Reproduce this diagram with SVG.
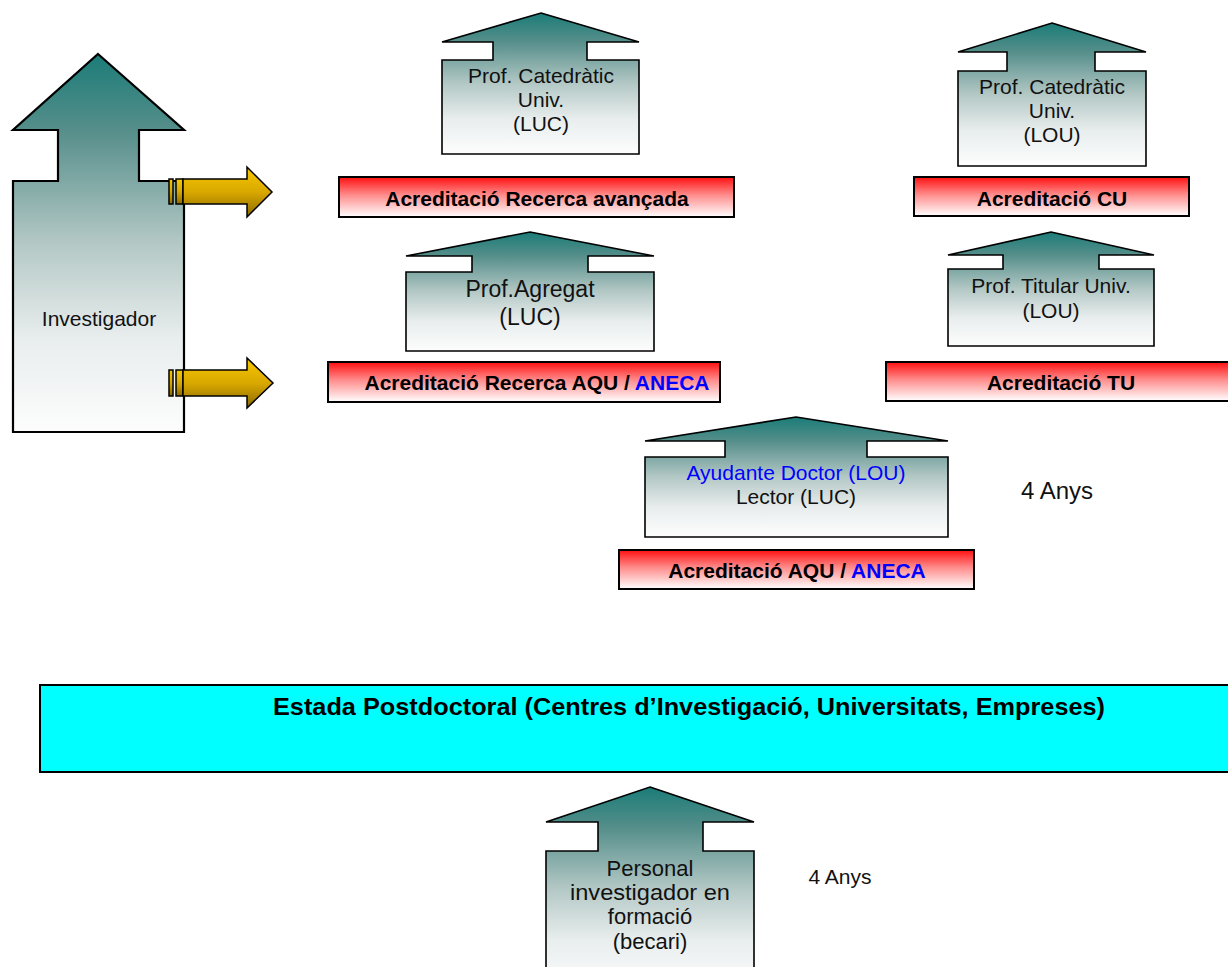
<svg xmlns="http://www.w3.org/2000/svg" width="1228" height="967" viewBox="0 0 1228 967">
<defs>
<linearGradient id="teal" x1="0" y1="0" x2="0" y2="1">
<stop offset="0" stop-color="#1B7C78"/>
<stop offset="0.2" stop-color="#558E8A"/>
<stop offset="0.5" stop-color="#B3C8C5"/>
<stop offset="0.75" stop-color="#E8EDED"/>
<stop offset="1" stop-color="#FDFDFD"/>
</linearGradient>
<linearGradient id="red" x1="0" y1="0" x2="0" y2="1">
<stop offset="0" stop-color="#FF1010"/>
<stop offset="0.45" stop-color="#FF8C8C"/>
<stop offset="1" stop-color="#FFFFFF"/>
</linearGradient>
<linearGradient id="gold" x1="0" y1="0" x2="0" y2="1">
<stop offset="0" stop-color="#F7C800"/>
<stop offset="0.5" stop-color="#D9A800"/>
<stop offset="1" stop-color="#8A6A00"/>
</linearGradient>
</defs>
<style>
.up{fill:url(#teal);stroke:#000;stroke-width:1.6;stroke-linejoin:miter}
.bar{fill:url(#red);stroke:#000;stroke-width:2}
.t{font-family:"Liberation Sans",Arial,sans-serif;font-size:21px;fill:#111;text-anchor:middle}
.b{font-family:"Liberation Sans",Arial,sans-serif;font-size:21px;font-weight:bold;fill:#000;text-anchor:middle}
.blue{fill:#0000FF}
.gold{fill:url(#gold);stroke:#000;stroke-width:1.5}
</style>

<g id="investigador">
<path class="up" style="stroke-width:2.2" d="M98,54 L184,130 L139,130 L139,181 L184,181 L184,432 L13,432 L13,181 L58,181 L58,130 L13,130 Z"/>
<text class="t" x="99" y="326">Investigador</text>
</g>

<g id="cat_luc">
<path class="up" d="M541,13 L639,42 L587,42 L587,60 L639,60 L639,154 L442,154 L442,60 L493,60 L493,42 L442,42 Z"/>
<text class="t" x="541" y="83">Prof. Catedràtic</text>
<text class="t" x="541" y="107">Univ.</text>
<text class="t" x="541" y="131">(LUC)</text>
</g>

<g id="acr_recerca_avancada">
<rect class="bar" x="339" y="177" width="395" height="40"/>
<text class="b" x="537" y="206">Acreditació Recerca avançada</text>
</g>

<g id="cat_lou">
<path class="up" d="M1052,23 L1146,52 L1095,52 L1095,71 L1146,71 L1146,166 L958,166 L958,71 L1007,71 L1007,52 L958,52 Z"/>
<text class="t" x="1052" y="94">Prof. Catedràtic</text>
<text class="t" x="1052" y="118">Univ.</text>
<text class="t" x="1052" y="142">(LOU)</text>
</g>

<g id="acr_cu">
<rect class="bar" x="914" y="177" width="275" height="39"/>
<text class="b" x="1052" y="206">Acreditació CU</text>
</g>

<g id="agregat">
<path class="up" d="M530,232 L654,256 L588,256 L588,272 L654,272 L654,351 L406,351 L406,272 L472,272 L472,256 L406,256 Z"/>
<text class="t" style="font-size:23px" x="530" y="297">Prof.Agregat</text>
<text class="t" style="font-size:23px" x="530" y="325">(LUC)</text>
</g>

<g id="acr_recerca_aqu">
<rect class="bar" x="328" y="362" width="392" height="40"/>
<text class="b" x="537" y="390">Acreditació Recerca AQU / <tspan class="blue">ANECA</tspan></text>
</g>

<g id="titular">
<path class="up" d="M1051,232 L1154,255 L1099,255 L1099,269 L1154,269 L1154,346 L948,346 L948,269 L1003,269 L1003,255 L948,255 Z"/>
<text class="t" x="1051" y="293">Prof. Titular Univ.</text>
<text class="t" x="1051" y="318">(LOU)</text>
</g>

<g id="acr_tu">
<rect class="bar" x="886" y="362" width="360" height="39"/>
<text class="b" x="1061" y="390">Acreditació TU</text>
</g>

<g id="ayudante">
<path class="up" d="M796,417 L948,441 L867,441 L867,457 L948,457 L948,537 L645,537 L645,457 L725,457 L725,441 L645,441 Z"/>
<text class="t blue" x="796" y="480">Ayudante Doctor (LOU)</text>
<text class="t" x="796" y="504">Lector (LUC)</text>
</g>

<g id="anys1">
<text class="t" style="font-size:24px" x="1057" y="499">4 Anys</text>
</g>

<g id="acr_aqu">
<rect class="bar" x="619" y="550" width="355" height="39"/>
<text class="b" x="797" y="578">Acreditació AQU / <tspan class="blue">ANECA</tspan></text>
</g>

<g id="postdoc">
<rect x="40" y="685" width="1200" height="87" fill="#00FFFF" stroke="#000" stroke-width="2"/>
<text class="b" style="font-size:24px" x="689" y="715" textLength="832" lengthAdjust="spacingAndGlyphs">Estada Postdoctoral (Centres d’Investigació, Universitats, Empreses)</text>
</g>

<g id="personal">
<path class="up" d="M650,787 L754,822 L703,822 L703,851 L754,851 L754,990 L546,990 L546,851 L598,851 L598,822 L546,822 Z"/>
<text class="t" style="font-size:22px" x="650" y="876">Personal</text>
<text class="t" style="font-size:22px" x="650" y="900" textLength="160" lengthAdjust="spacingAndGlyphs">investigador en</text>
<text class="t" style="font-size:22px" x="650" y="924">formació</text>
<text class="t" style="font-size:22px" x="650" y="949">(becari)</text>
</g>

<g id="anys2">
<text class="t" x="840" y="884">4 Anys</text>
</g>

<g id="connectors">
<g id="arrow1">
<rect class="gold" x="169" y="179" width="4" height="25"/>
<rect class="gold" x="176" y="179" width="7" height="25"/>
<path class="gold" d="M183,179 L247,179 L247,167 L272,192 L247,217 L247,204 L183,204 Z"/>
</g>
<g id="arrow2">
<rect class="gold" x="169" y="370" width="4" height="26"/>
<rect class="gold" x="176" y="370" width="7" height="26"/>
<path class="gold" d="M183,370 L247,370 L247,358 L273,383 L247,408 L247,396 L183,396 Z"/>
</g>
</g>
</svg>
